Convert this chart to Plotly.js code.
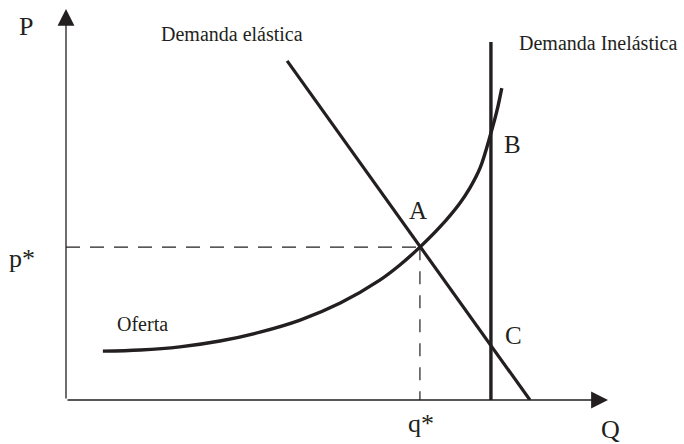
<!DOCTYPE html>
<html>
<head>
<meta charset="utf-8">
<script src="https://cdn.plot.ly/plotly-3.0.1.min.js"></script>
<style>
  html, body { margin: 0; padding: 0; background: #ffffff; }
  #chart { width: 684px; height: 444px; }
</style>
</head>
<body>
<div id="chart"></div>
<script>
// Oferta y demanda (escala 0-100)

const supplyQ = [6.8, 13.7, 21.0, 28.4, 35.8, 43.2, 50.6, 57.9, 61.6, 65.3, 69.0, 72.7, 74.5, 76.4, 78.4, 79.5, 80.4];
const supplyP = [12.6, 12.9, 13.7, 15.2, 17.5, 20.6, 25.0, 30.9, 34.8, 39.4, 44.6, 50.8, 54.6, 59.8, 68.8, 74.5, 80.4];

const elasticQ = [40.8, 85.6];
const elasticP = [87.4, 0];

const inelasticQ = [78.4, 78.4];
const inelasticP = [0, 92.3];

const qStar = 65.3;
const pStar = 39.4;

const axisMaxQ = 100;
const axisMaxP = 100.8;

const ink = '#231f20';
const serif = 'Liberation Serif, Times New Roman, serif';

// --- curves ---
const supplyTrace = {
    x: supplyQ,
    y: supplyP,
    type: 'scatter',
    mode: 'lines',
    line: { color: ink, width: 3.4, shape: 'spline', smoothing: 1 },
    hoverinfo: 'skip'
};

const elasticTrace = {
    x: elasticQ,
    y: elasticP,
    type: 'scatter',
    mode: 'lines',
    line: { color: ink, width: 3.2 },
    hoverinfo: 'skip'
};

const inelasticTrace = {
    x: inelasticQ,
    y: inelasticP,
    type: 'scatter',
    mode: 'lines',
    line: { color: ink, width: 3.4 },
    hoverinfo: 'skip'
};

// dashed guides to p* and q*
const guideH = {
    x: [0, qStar],
    y: [pStar, pStar],
    type: 'scatter',
    mode: 'lines',
    line: { color: ink, width: 1.2, dash: '14px,10px' },
    hoverinfo: 'skip'
};

const guideV = {
    x: [qStar, qStar],
    y: [pStar, 0],
    type: 'scatter',
    mode: 'lines',
    line: { color: ink, width: 1.2, dash: '13px,11px' },
    hoverinfo: 'skip'
};

// axes drawn as arrows
const axisArrow = (x, y) => ({
    x: x, y: y, ax: 0, ay: 0,
    xref: 'x', yref: 'y', axref: 'x', ayref: 'y',
    text: '',
    showarrow: true,
    arrowhead: 2,
    arrowsize: 2.6,
    arrowwidth: 1.3,
    arrowcolor: ink
});

// labels inside the plot area (data coords)
const label = (text, x, y, size) => ({
    x: x, y: y,
    xref: 'x', yref: 'y',
    text: text,
    showarrow: false,
    xanchor: 'center',
    yanchor: 'middle',
    font: { family: serif, size: size, color: ink }
});

// labels outside the axes (paper coords, otherwise plotly hides them)
const outerLabel = (text, x, y) => ({
    x: x, y: y,
    xref: 'paper', yref: 'paper',
    text: text,
    showarrow: false,
    xanchor: 'center',
    yanchor: 'middle',
    font: { family: serif, size: 26, color: ink }
});

const annotations = [
    axisArrow(0, axisMaxP),
    axisArrow(axisMaxQ, 0),
    outerLabel('P', -0.073, 0.962),
    outerLabel('Q', 1.004, -0.075),
    outerLabel('p*', -0.081, 0.365),
    outerLabel('q*', 0.655, -0.061),
    label('A', 64.9, 48.8, 25),
    label('B', 82.3, 65.8, 25),
    label('C', 82.5, 16.6, 25),
    label('Oferta', 14.2, 19.6, 20),
    label('Demanda elástica', 30.6, 94.4, 20),
    label('Demanda Inelástica', 98.2, 91.9, 20)
];

const layout = {
    width: 684,
    height: 444,
    showlegend: false,
    paper_bgcolor: '#ffffff',
    plot_bgcolor: '#ffffff',
    margin: { t: 12, r: 76, b: 44, l: 66 },
    xaxis: { range: [0, 100], visible: false, fixedrange: true },
    yaxis: { range: [0, 100], visible: false, fixedrange: true },
    annotations: annotations
};

Plotly.newPlot('chart', [guideH, guideV, elasticTrace, inelasticTrace, supplyTrace], layout, { displayModeBar: false, staticPlot: true });
</script>
</body>
</html>
